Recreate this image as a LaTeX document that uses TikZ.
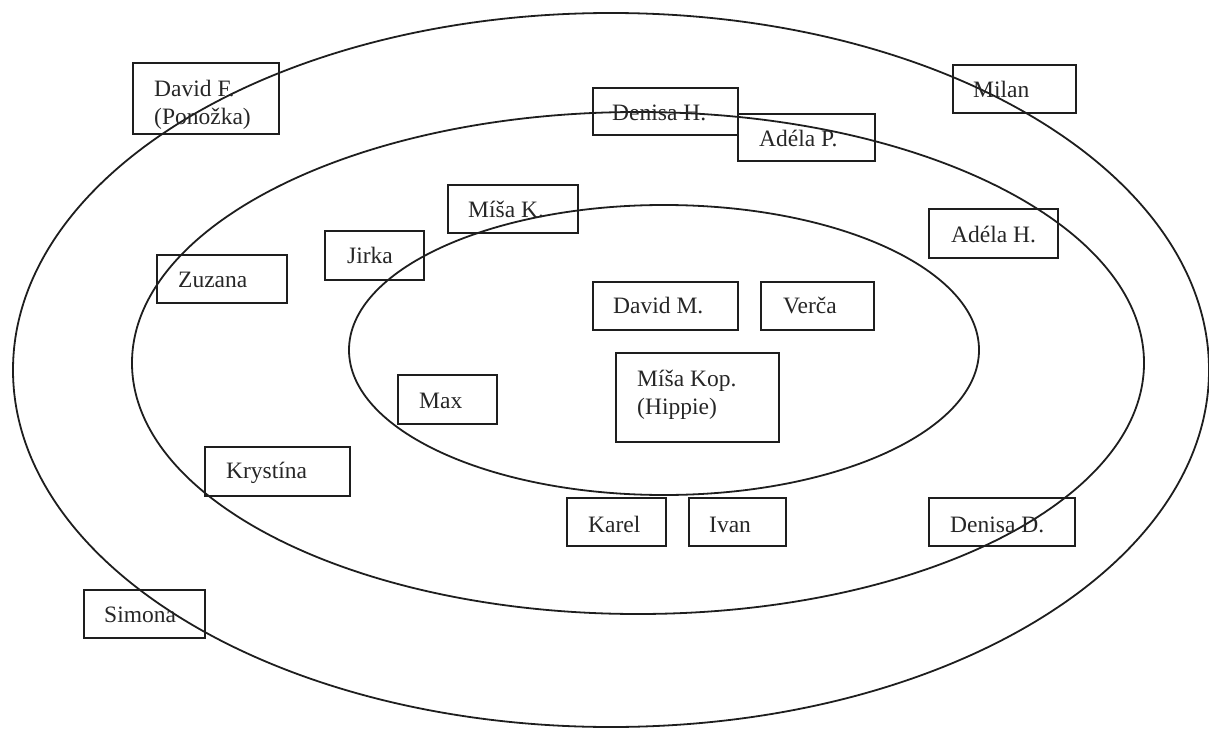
\documentclass[tikz,border=0pt]{standalone}
\usepackage{fontspec}
\setmainfont{Liberation Serif}
\definecolor{ink}{HTML}{1E1E1E}
\definecolor{txt}{HTML}{262626}
\tikzset{
  ring/.style={draw=ink, line width=1.8pt},
  box/.style={draw=ink, line width=1.7pt, inner sep=0pt, anchor=north west},
  lbl/.style={inner sep=0pt, text=txt, font=\fontsize{23.5}{28}\selectfont, align=left},
}
\begin{document}
\begin{tikzpicture}[x=1pt, y=-1pt]
\useasboundingbox (0,0) rectangle (1209,730);

% rings
\draw[ring] (611,370) ellipse [x radius=598pt, y radius=357pt];
\draw[ring] (638,363) ellipse [x radius=506pt, y radius=251pt];
\draw[ring] (664,350) ellipse [x radius=315pt, y radius=145pt];

% boxes
\node[box, minimum width=146pt, minimum height=71pt] (davidf)   at (132,62)  {};
\node[box, minimum width=145pt, minimum height=47pt] (denisah)  at (592,87)  {};
\node[box, minimum width=137pt, minimum height=47pt] (adelap)   at (737,113) {};
\node[box, minimum width=123pt, minimum height=48pt] (milan)    at (952,64)  {};
\node[box, minimum width=130pt, minimum height=48pt] (misak)    at (447,184) {};
\node[box, minimum width=99pt,  minimum height=49pt] (jirka)    at (324,230) {};
\node[box, minimum width=129pt, minimum height=49pt] (adelah)   at (928,208) {};
\node[box, minimum width=130pt, minimum height=48pt] (zuzana)   at (156,254) {};
\node[box, minimum width=145pt, minimum height=48pt] (davidm)   at (592,281) {};
\node[box, minimum width=113pt, minimum height=48pt] (verca)    at (760,281) {};
\node[box, minimum width=99pt,  minimum height=49pt] (max)      at (397,374) {};
\node[box, minimum width=163pt, minimum height=89pt] (misakop)  at (615,352) {};
\node[box, minimum width=145pt, minimum height=49pt] (krystina) at (204,446) {};
\node[box, minimum width=99pt,  minimum height=48pt] (karel)    at (566,497) {};
\node[box, minimum width=97pt,  minimum height=48pt] (ivan)     at (688,497) {};
\node[box, minimum width=146pt, minimum height=48pt] (denisad)  at (928,497) {};
\node[box, minimum width=121pt, minimum height=48pt] (simona)   at (83,589)  {};

% labels
\node[lbl, anchor=north west] (davidf-t)  at ([shift={(22pt,-18pt)}]davidf.north west)  {David F.\\(Ponožka)};
\node[lbl, anchor=north west] (misakop-t) at ([shift={(22pt,-18pt)}]misakop.north west) {Míša Kop.\\(Hippie)};
\node[lbl, anchor=base west] (denisah-t)  at ([shift={(20pt,-34pt)}]denisah.north west)  {Denisa H.};
\node[lbl, anchor=base west] (adelap-t)   at ([shift={(22pt,-34pt)}]adelap.north west)   {Adéla P.};
\node[lbl, anchor=base west] (milan-t)    at ([shift={(21pt,-34pt)}]milan.north west)    {Milan};
\node[lbl, anchor=base west] (misak-t)    at ([shift={(21pt,-33pt)}]misak.north west)    {Míša K.};
\node[lbl, anchor=base west] (jirka-t)    at ([shift={(23pt,-33pt)}]jirka.north west)    {Jirka};
\node[lbl, anchor=base west] (adelah-t)   at ([shift={(23pt,-34pt)}]adelah.north west)   {Adéla H.};
\node[lbl, anchor=base west] (zuzana-t)   at ([shift={(22pt,-33pt)}]zuzana.north west)   {Zuzana};
\node[lbl, anchor=base west] (davidm-t)   at ([shift={(21pt,-32pt)}]davidm.north west)   {David M.};
\node[lbl, anchor=base west] (verca-t)    at ([shift={(23pt,-32pt)}]verca.north west)    {Verča};
\node[lbl, anchor=base west] (max-t)      at ([shift={(22pt,-34pt)}]max.north west)      {Max};
\node[lbl, anchor=base west] (krystina-t) at ([shift={(22pt,-32pt)}]krystina.north west) {Krystína};
\node[lbl, anchor=base west] (karel-t)    at ([shift={(22pt,-35pt)}]karel.north west)    {Karel};
\node[lbl, anchor=base west] (ivan-t)     at ([shift={(21pt,-35pt)}]ivan.north west)     {Ivan};
\node[lbl, anchor=base west] (denisad-t)  at ([shift={(22pt,-35pt)}]denisad.north west)  {Denisa D.};
\node[lbl, anchor=base west] (simona-t)   at ([shift={(21pt,-33pt)}]simona.north west)   {Simona};
\end{tikzpicture}
\end{document}
